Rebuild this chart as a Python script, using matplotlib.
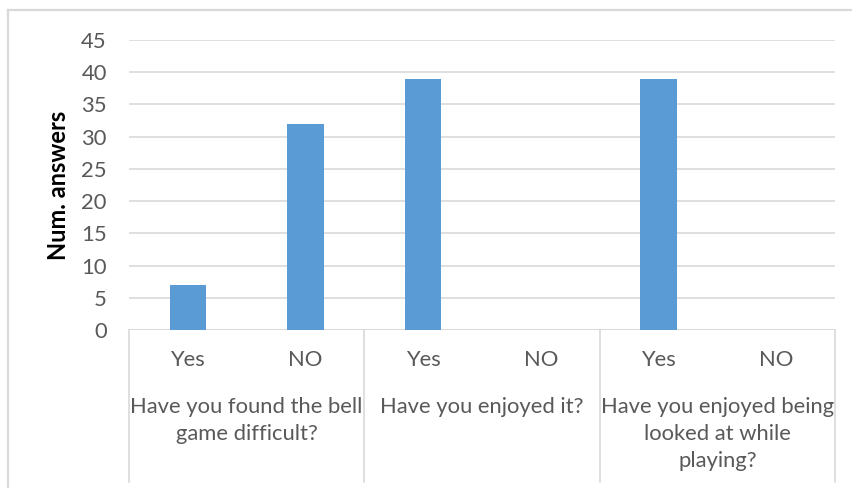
import matplotlib
matplotlib.use("Agg")
import matplotlib.pyplot as plt
from matplotlib.lines import Line2D
from matplotlib.transforms import blended_transform_factory

questions = ["Have you found the bell\ngame difficult?",
             "Have you enjoyed it?",
             "Have you enjoyed being\nlooked at while\nplaying?"]
answers = ["Yes", "NO", "Yes", "NO", "Yes", "NO"]
counts = [7, 32, 39, 0, 39, 0]
yticks = [0, 5, 10, 15, 20, 25, 30, 35, 40, 45]

W, H = 853, 488
fig = plt.figure(figsize=(W / 100, H / 100), dpi=100)
plt.rcParams['font.family'] = ['Lato', 'DejaVu Sans']

# plot area in pixel coordinates
x0, x1, ytop, ybot = 129, 835, 40, 330
ax = fig.add_axes([x0 / W, (H - ybot) / H, (x1 - x0) / W, (ybot - ytop) / H])

text_color = "#595959"
grid_color = "#d9d9d9"
fs = 15.8

xs = list(range(len(counts)))
ax.bar(xs, counts, width=0.31, color="#5b9bd5", zorder=3)
ax.set_xlim(-0.5, len(counts) - 0.5)
ax.set_ylim(0, 45)
ax.set_yticks(yticks)
ax.set_yticklabels([str(v) for v in yticks], fontsize=fs, color=text_color)
ax.tick_params(axis="y", length=0, pad=16)
ax.set_xticks([])
for s in ax.spines.values():
    s.set_visible(False)
ax.yaxis.grid(True, color=grid_color, linewidth=1.2, zorder=0)
ax.axhline(0, color=grid_color, linewidth=1.2, zorder=1)

ax.set_ylabel("Num. answers", fontsize=17, fontweight="bold", color="black", labelpad=8)

# multi-level category axis
tr = blended_transform_factory(ax.transData, ax.transAxes)
axis_h = ybot - ytop
for xv, lab in zip(xs, answers):
    ax.text(xv, -(360 - ybot) / axis_h, lab, transform=tr, ha="center", va="center",
            fontsize=fs, color=text_color, clip_on=False)

bottom_frac = -(482 - ybot) / axis_h
for i in range(len(questions) + 1):
    xb = -0.5 + 2 * i
    ax.add_line(Line2D([xb, xb], [0, bottom_frac], transform=tr, color=grid_color,
                       linewidth=1.2, clip_on=False))

for g, q in enumerate(questions):
    ax.text(2 * g + 0.5, -(397 - ybot) / axis_h, q, transform=tr, ha="center", va="top",
            fontsize=fs, color=text_color, linespacing=1.45, clip_on=False)

# chart area border
fig.add_artist(Line2D([8 / W, 8 / W], [0, 1 - 10 / H], transform=fig.transFigure,
                      color=grid_color, linewidth=1.6))
fig.add_artist(Line2D([8 / W, 1], [1 - 10 / H, 1 - 10 / H], transform=fig.transFigure,
                      color=grid_color, linewidth=1.6))

fig.savefig("out.png", dpi=100)
